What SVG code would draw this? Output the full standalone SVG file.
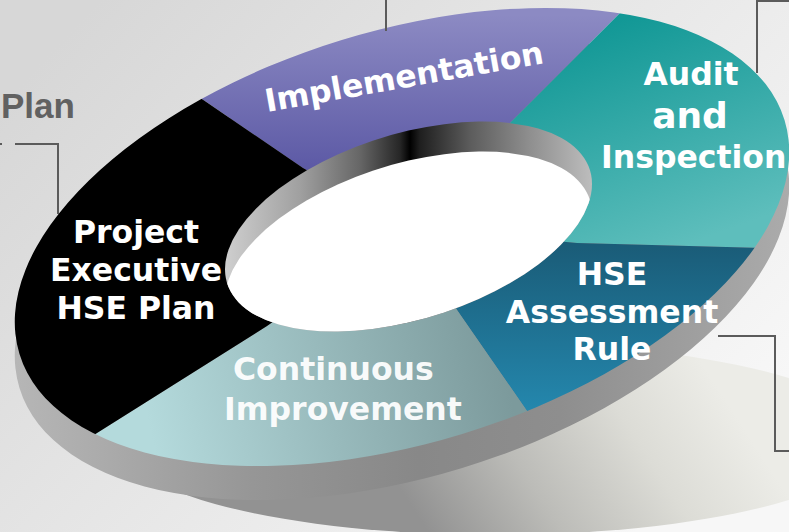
<svg xmlns="http://www.w3.org/2000/svg" width="789" height="532" viewBox="0 0 789 532">
<defs>
<style>
.lbl{font-family:"DejaVu Sans",Verdana,sans-serif;font-weight:bold;font-size:31.5px;fill:#ffffff}
.conn{fill:none;stroke:#5b5b5b;stroke-width:2}
.seg{clip-path:url(#cOuter)}
</style>
<linearGradient id="gBg" gradientUnits="userSpaceOnUse" x1="100" y1="0" x2="650" y2="520">
<stop offset="0" stop-color="#d7d7d7"/><stop offset="1" stop-color="#f7f7f7"/>
</linearGradient>
<linearGradient id="gShadow" gradientUnits="userSpaceOnUse" x1="430" y1="535" x2="700" y2="360">
<stop offset="0" stop-color="#929292"/><stop offset="0.35" stop-color="#bcbcb8"/><stop offset="0.7" stop-color="#dcdcd6"/><stop offset="1" stop-color="#ececE7"/>
</linearGradient>
<linearGradient id="gSide" gradientUnits="userSpaceOnUse" x1="0" y1="0" x2="789" y2="0">
<stop offset="0" stop-color="#b8b8b8"/><stop offset="0.13" stop-color="#ababab"/><stop offset="0.32" stop-color="#969696"/><stop offset="0.53" stop-color="#888888"/><stop offset="0.71" stop-color="#8e8e8e"/><stop offset="0.89" stop-color="#a0a0a0"/><stop offset="1" stop-color="#ababab"/>
</linearGradient>
<linearGradient id="gPurple" gradientUnits="userSpaceOnUse" x1="0" y1="15" x2="0" y2="170">
<stop offset="0" stop-color="#8c8ac3"/><stop offset="1" stop-color="#5c59a5"/>
</linearGradient>
<linearGradient id="gTeal" gradientUnits="userSpaceOnUse" x1="620" y1="20" x2="700" y2="240">
<stop offset="0" stop-color="#129896"/><stop offset="1" stop-color="#5ebebc"/>
</linearGradient>
<linearGradient id="gBlue" gradientUnits="userSpaceOnUse" x1="0" y1="245" x2="0" y2="410">
<stop offset="0" stop-color="#1a5c78"/><stop offset="1" stop-color="#2487ad"/>
</linearGradient>
<linearGradient id="gLight" gradientUnits="userSpaceOnUse" x1="150" y1="430" x2="500" y2="350">
<stop offset="0" stop-color="#b4dadc"/><stop offset="1" stop-color="#7c9a9c"/>
</linearGradient>
<linearGradient id="gWall" gradientUnits="userSpaceOnUse" x1="225" y1="0" x2="592" y2="0">
<stop offset="0" stop-color="#cfcfcf"/><stop offset="0.204" stop-color="#a0a0a0"/><stop offset="0.368" stop-color="#666666"/><stop offset="0.477" stop-color="#262626"/><stop offset="0.504" stop-color="#000000"/><stop offset="0.53" stop-color="#1e1e1e"/><stop offset="0.668" stop-color="#5c5c5c"/><stop offset="0.831" stop-color="#8f8f8f"/><stop offset="1" stop-color="#bdbdbd"/>
</linearGradient>
<clipPath id="cOuter"><ellipse cx="402" cy="237" rx="400" ry="206" transform="rotate(-17 402 237)"/></clipPath>
<clipPath id="cSide"><ellipse cx="402" cy="237" rx="400" ry="206" transform="translate(0 34) rotate(-17 402 237)"/></clipPath>
<clipPath id="cRim"><ellipse cx="0" cy="0" rx="183.5" ry="96" transform="matrix(1 -0.232 0 1 408.5 226.6)"/></clipPath>
</defs>

<rect id="background" x="0" y="0" width="789" height="532" fill="url(#gBg)"/>
<ellipse id="floor-shadow" cx="495" cy="439" rx="380" ry="96" fill="url(#gShadow)"/>
<rect id="ring-side" x="0" y="0" width="789" height="532" fill="url(#gSide)" clip-path="url(#cSide)"/>

<g id="node-implementation">
<polygon class="seg" points="408,227 303,168 -101,-108 947,-314 511,122" fill="url(#gPurple)"/>
<text class="lbl" transform="translate(267 112) rotate(-10)">Implementation</text>
</g>
<g id="node-audit">
<polygon class="seg" points="408,227 511,122 947,-314 1400,-400 1309,263 577,243" fill="url(#gTeal)"/>
<text class="lbl" x="691" y="85" text-anchor="middle">Audit</text>
<text class="lbl" x="690" y="128" text-anchor="middle" style="font-size:36px">and</text>
<text class="lbl" x="601" y="168">Inspection</text>
</g>
<g id="node-assessment">
<polygon class="seg" points="408,227 577,243 1309,263 1400,800 737,714 457,310" fill="url(#gBlue)"/>
<text class="lbl" x="612" y="285" text-anchor="middle">HSE</text>
<text class="lbl" x="612" y="323" text-anchor="middle">Assessment</text>
<text class="lbl" x="612" y="360" text-anchor="middle">Rule</text>
</g>
<g id="node-improvement">
<polygon class="seg" points="408,227 457,310 737,714 -413,754 267,326" fill="url(#gLight)"/>
<text class="lbl" x="233" y="380" fill-opacity="0.95">Continuous</text>
<text class="lbl" x="224" y="420" fill-opacity="0.95">Improvement</text>
</g>
<g id="node-plan">
<polygon class="seg" points="408,227 267,326 -413,754 -500,0 -101,-108 303,168" fill="#000000"/>
<text class="lbl" x="136" y="243" text-anchor="middle">Project</text>
<text class="lbl" x="136" y="281" text-anchor="middle">Executive</text>
<text class="lbl" x="136" y="319" text-anchor="middle">HSE Plan</text>
</g>

<g id="ring-hole">
<rect x="200" y="100" width="420" height="260" fill="url(#gWall)" clip-path="url(#cRim)"/>
<g clip-path="url(#cRim)">
<ellipse cx="0" cy="0" rx="183.5" ry="96" transform="matrix(1 -0.232 0 1 408.5 256.6)" fill="#ffffff"/>
</g>
</g>

<text id="side-label" x="1" y="118" style="font-family:'Liberation Sans',Arial,sans-serif;font-weight:bold;font-size:35px;fill:#616161">Plan</text>

<g id="connectors">
<path class="conn" d="M386,0 V31"/>
<path class="conn" d="M757,73 V1 H789"/>
<path class="conn" d="M0,144 H2"/>
<path class="conn" d="M15,144 H58 V214"/>
<path class="conn" d="M718,336 H775 V451 H789"/>
</g>
</svg>
